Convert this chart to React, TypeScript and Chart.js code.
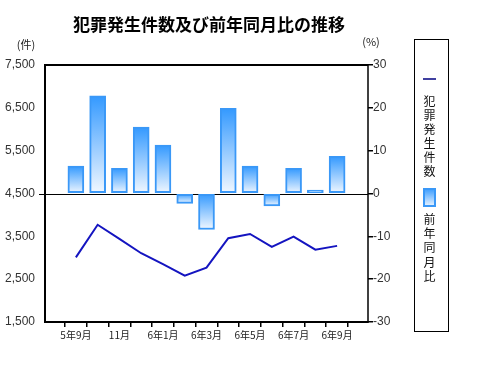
import React, { useEffect, useRef } from 'react';
import { Chart, registerables } from 'chart.js';

Chart.register(...registerables);

const TITLE = '犯罪発生件数及び前年同月比の推移';
const categories = ['5年9月', '10月', '11月', '12月', '6年1月', '2月', '6年3月', '4月', '6年5月', '6月', '6年7月', '8月', '6年9月'];
const crimeCounts = [3010, 3770, 3440, 3105, 2850, 2582, 2770, 3455, 3556, 3252, 3495, 3190, 3277];
const yoyPercent = [6.4, 22.8, 5.9, 15.5, 11.3, -2.3, -8.4, 19.9, 6.4, -2.9, 5.9, 0.8, 8.7];
const countTicks = { min: 1500, max: 7500, step: 1000 };
const pctTicks = { min: -30, max: 30, step: 10 };
const seriesNames = ['犯罪発生件数', '前年同月比'];
const unitLeft = '(件)';
const unitRight = '(%)';

const LINE_COLOR = '#1414c0';
const BAR_BORDER = '#3a98f7';
const BAR_TOP = '#3399ff';
const BAR_BOTTOM = '#f2f8ff';
const JP = '"Noto Sans CJK JP", "Noto Sans", sans-serif';
const LAT = '"Liberation Sans", Arial, sans-serif';

const overlay = {
  id: 'overlay',
  beforeDatasetsDraw(chart: any) {
    const { ctx, chartArea: a } = chart;
    const y0 = chart.scales.y2.getPixelForValue(0);
    ctx.save();
    ctx.strokeStyle = '#000';
    ctx.lineWidth = 1;
    ctx.beginPath();
    ctx.moveTo(39, Math.round(y0) + 0.5);
    ctx.lineTo(a.right, Math.round(y0) + 0.5);
    ctx.stroke();
    ctx.restore();
  },
  afterDraw(chart: any) {
    const { ctx, chartArea: a } = chart;
    ctx.save();
    // frame
    ctx.strokeStyle = '#000';
    ctx.lineWidth = 2;
    ctx.beginPath();
    ctx.moveTo(a.right, a.top);
    ctx.lineTo(a.left, a.top);
    ctx.lineTo(a.left, a.bottom);
    ctx.lineTo(a.right, a.bottom);
    ctx.stroke();
    ctx.lineWidth = 1.5;
    ctx.beginPath();
    ctx.moveTo(a.right, a.top - 1);
    ctx.lineTo(a.right, a.bottom + 1);
    ctx.stroke();

    // title
    ctx.fillStyle = '#000';
    ctx.textAlign = 'center';
    ctx.textBaseline = 'middle';
    ctx.font = `bold 17px ${JP}`;
    ctx.fillText(TITLE, 209, 25);

    // units
    ctx.font = `11px ${JP}`;
    ctx.fillStyle = '#222';
    ctx.fillText(unitLeft, 26, 45);
    ctx.fillText(unitRight, 371, 42);

    // legend box
    ctx.strokeStyle = '#000';
    ctx.lineWidth = 1;
    ctx.strokeRect(414.5, 39.5, 34, 292);
    // line symbol
    ctx.strokeStyle = '#000080';
    ctx.lineWidth = 1.5;
    ctx.beginPath();
    ctx.moveTo(423, 79);
    ctx.lineTo(436, 79);
    ctx.stroke();
    // text 1
    ctx.fillStyle = '#111';
    ctx.font = `12px ${JP}`;
    const t1 = Array.from(seriesNames[0]);
    t1.forEach((c, i) => ctx.fillText(c, 429.5, 101 + i * 14));
    // bar symbol
    const g = ctx.createLinearGradient(0, 188, 0, 207);
    g.addColorStop(0, BAR_TOP);
    g.addColorStop(1, BAR_BOTTOM);
    ctx.fillStyle = g;
    ctx.fillRect(423, 188, 13, 19);
    ctx.strokeStyle = BAR_BORDER;
    ctx.lineWidth = 2;
    ctx.strokeRect(424, 189, 11, 17);
    ctx.fillStyle = '#111';
    const t2 = Array.from(seriesNames[1]);
    t2.forEach((c, i) => ctx.fillText(c, 429.5, 219.5 + i * 14.2));
    ctx.restore();
  },
};

export default function App() {
  const ref = useRef<HTMLCanvasElement>(null);
  useEffect(() => {
    if (!ref.current) return;
    const chart = new Chart(ref.current, {
      type: 'bar',
      data: {
        datasets: [
          {
            type: 'line',
            label: seriesNames[0],
            data: crimeCounts.map((v, i) => ({ x: i, y: v })),
            yAxisID: 'y',
            xAxisID: 'x',
            borderColor: LINE_COLOR,
            borderWidth: 2,
            pointRadius: 0,
            tension: 0,
            fill: false,
            order: 0,
          } as any,
          {
            type: 'bar',
            label: seriesNames[1],
            data: yoyPercent.map((v, i) => ({ x: i, y: v })),
            yAxisID: 'y2',
            xAxisID: 'x',
            barThickness: 16,
            borderWidth: 2,
            borderSkipped: false,
            borderColor: BAR_BORDER,
            backgroundColor: (c: any) => {
              const chart = c.chart;
              const sc = chart.scales && chart.scales.y2;
              if (!sc || c.type !== 'data' || !c.raw) return BAR_TOP;
              const v = c.raw.y;
              const top = sc.getPixelForValue(Math.max(v, 0));
              const bot = sc.getPixelForValue(Math.min(v, 0));
              if (!isFinite(top) || !isFinite(bot) || top === bot) return BAR_TOP;
              const g = chart.ctx.createLinearGradient(0, top, 0, bot);
              g.addColorStop(0, BAR_TOP);
              g.addColorStop(1, BAR_BOTTOM);
              return g;
            },
            order: 1,
          } as any,
        ],
      },
      options: {
        animation: false,
        responsive: false,
        devicePixelRatio: 1,
        layout: { padding: { top: 65, left: 0, right: 0, bottom: 0 } },
        plugins: { legend: { display: false }, title: { display: false }, tooltip: { enabled: false } },
        scales: {
          x: {
            type: 'linear',
            min: -0.848,
            max: categories.length - 1 + 0.848,
            afterBuildTicks: (s: any) => {
              s.ticks = categories.map((_, i) => ({ value: i }));
            },
            afterFit: (s: any) => {
              s.height = 44;
            },
            grid: { display: true, drawOnChartArea: false, color: '#000', tickLength: 5, lineWidth: 1.5 },
            border: { display: false },
            ticks: {
              autoSkip: false,
              maxRotation: 0,
              padding: 2,
              color: '#222',
              font: { family: JP, size: 10 },
              callback: (v: any) => {
                const i = Math.round(Number(v));
                return i % 2 === 0 ? categories[i] : '';
              },
            },
          },
          y: {
            type: 'linear',
            position: 'left',
            min: countTicks.min,
            max: countTicks.max,
            afterFit: (s: any) => {
              s.width = 45;
            },
            grid: { display: false },
            border: { display: false },
            ticks: {
              stepSize: countTicks.step,
              padding: 2,
              color: '#333',
              font: { family: LAT, size: 12 },
              callback: (v: any) => Number(v).toLocaleString('en-US'),
            },
          },
          y2: {
            type: 'linear',
            position: 'right',
            min: pctTicks.min,
            max: pctTicks.max,
            afterFit: (s: any) => {
              s.width = 110;
            },
            grid: { display: true, drawOnChartArea: false, color: '#000', tickLength: 5, lineWidth: 1.5 },
            border: { display: false },
            ticks: {
              stepSize: pctTicks.step,
              padding: 0,
              color: '#333',
              font: { family: LAT, size: 12 },
            },
          },
        },
      } as any,
      plugins: [overlay],
    });
    return () => chart.destroy();
  }, []);
  return (
    <div style={{ position: 'absolute', left: 0, top: 0, width: 478, height: 366, background: '#fff' }}>
      <canvas ref={ref} width={478} height={366} style={{ display: 'block' }} />
    </div>
  );
}
